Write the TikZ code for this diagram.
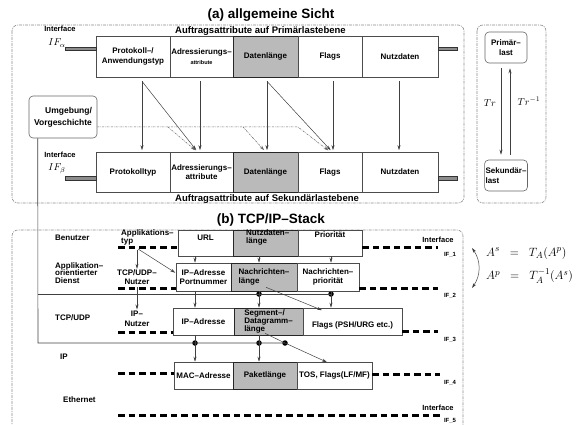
\documentclass[tikz,border=0pt]{standalone}
\usepackage{fontspec}
\setmainfont{Liberation Sans}
\usetikzlibrary{arrows.meta,calc}
\begin{document}
\begin{tikzpicture}[x=1pt,y=-1pt,
  every node/.style={inner sep=0pt},
  txt/.style={font=\fontsize{8}{9}\selectfont\bfseries, align=center},
  lab/.style={font=\fontsize{9.5}{11}\selectfont\bfseries},
  small/.style={font=\fontsize{7.5}{9}\selectfont\bfseries},
  tiny/.style={font=\fontsize{6}{7}\selectfont\bfseries},
  ttl/.style={font=\fontsize{13.5}{16}\selectfont\bfseries},
  cell/.style={draw=black!70, line width=0.6pt, fill=white, font=\fontsize{8}{9.5}\selectfont\bfseries, align=center, inner sep=0.5pt},
  gcell/.style={cell, fill=black!27, draw=black!85},
  rbox/.style={draw=black!60, line width=0.6pt, rounded corners=4pt, font=\fontsize{8}{9.5}\selectfont\bfseries, inner sep=1pt},
  frame/.style={draw=black!45, line width=0.6pt, dash pattern=on 3pt off 1pt on 1pt off 1pt, rounded corners=6pt},
  arr/.style={draw=black!75, line width=0.5pt, -{Stealth[length=5pt,width=3pt]}},
  darr/.style={arr, draw=black!60, dash pattern=on 2pt off 1pt on 0.6pt off 1pt},
  ifbar/.style={draw=black!80, fill=black!45, line width=0.5pt, minimum height=3.5pt},
  ifline/.style={line width=3pt, dash pattern=on 6.5pt off 4pt},
  bus/.style={draw=black!75, line width=0.6pt},
  dot/.style={circle, fill=black, minimum size=5.5pt},
  mth/.style={font=\fontsize{10}{12}\selectfont}
]
\useasboundingbox (0,0) rectangle (581,425);

% ===================== (a) =====================
\node[ttl] (ta) at (271,15) {(a) allgemeine Sicht};
\draw[frame] (12,25) rectangle (464,203);
\draw[frame] (477,25) rectangle (546,203);
\node[lab, anchor=west] (pl) at (175,31) {Auftragsattribute auf Primärlastebene};
\node[lab, anchor=west] (sl) at (175,199) {Auftragsattribute auf Sekundärlastebene};

\node[cell, minimum width=74, minimum height=41] (p1) at (133,56.5) {Protokoll--/\\Anwendungstyp};
\node[cell, minimum width=63, minimum height=41] (p2) at (201.5,56.5) {Adressierungs--\\{\fontsize{5.5}{7}\selectfont attribute}};
\node[gcell, minimum width=65, minimum height=41] (p3) at (265.5,56.5) {Datenlänge};
\node[cell, minimum width=64, minimum height=41] (p4) at (330,56.5) {Flags};
\node[cell, minimum width=76, minimum height=41] (p5) at (400,56.5) {Nutzdaten};

\node[cell, minimum width=74, minimum height=40] (q1) at (133,172) {Protokolltyp};
\node[cell, minimum width=63, minimum height=40] (q2) at (201.5,172) {Adressierungs--\\attribute};
\node[gcell, minimum width=65, minimum height=40] (q3) at (265.5,172) {Datenlänge};
\node[cell, minimum width=64, minimum height=40] (q4) at (330,172) {Flags};
\node[cell, minimum width=76, minimum height=40] (q5) at (400,172) {Nutzdaten};

\node[small] (ifa) at (60,29) {Interface};
\node[mth] (ifal) at (57,43) {$IF_{\alpha}$};
\node[small] (ifb) at (60,155) {Interface};
\node[mth] (ifbl) at (57,169) {$IF_{\beta}$};
\node[ifbar, minimum width=31] (ba1) at (81,49) {};
\node[ifbar, minimum width=19] (ba2) at (447.5,49) {};
\node[ifbar, minimum width=31] (bb1) at (81,178) {};
\node[ifbar, minimum width=19] (bb2) at (447.5,178) {};

\node[rbox, minimum width=68, minimum height=42, align=right, font=\fontsize{8.5}{12}\selectfont\bfseries] (um) at (63,117) {Umgebung/\\Vorgeschichte};

\draw[arr, shorten >=1.5pt] ([xshift=9pt,yshift=-4pt]p1.south) -- ([xshift=9pt]q1.north);
\draw[arr, shorten >=2pt] ([xshift=9pt,yshift=-4pt]p1.south) -- ([xshift=-4pt]q2.north);
\draw[arr, shorten >=1.5pt] ([xshift=-1.5pt,yshift=-4pt]p2.south) -- ([xshift=-1.5pt]q2.north);
\draw[arr, shorten >=1.5pt] ([xshift=1.5pt,yshift=-4pt]p3.south) -- ([xshift=1.5pt]q3.north);
\draw[arr, shorten >=2pt] ([xshift=1.5pt,yshift=-4pt]p3.south) -- ([xshift=2pt]q4.north);
\draw[arr, shorten >=1.5pt] ([xshift=3pt,yshift=-4pt]p4.south) -- ([xshift=3pt]q4.north);
\draw[arr, shorten >=1.5pt] ([xshift=-1pt,yshift=-4pt]p5.south) -- ([xshift=-1pt]q5.north);

\coordinate (j0) at (298,127);
\coordinate (b1) at (168,127);
\coordinate (b2) at (243,127);
\draw[darr, shorten >=2pt] ([yshift=-10pt]um.east) -- (j0) -- (q4.north);
\draw[darr, shorten >=2pt] (b1) -- ([xshift=-4.5pt]q2.north);
\draw[darr, shorten >=2pt] (b2) -- (q3.north);

\node[rbox, minimum width=42, minimum height=31, align=center] (prim) at (506,47.5) {Primär--\\last};
\node[rbox, minimum width=42, minimum height=31, align=left] (sek) at (506,175.5) {Sekundär--\\last};
\draw[arr] ([xshift=-5pt,yshift=-5pt]prim.south) -- ([xshift=-5pt,yshift=5pt]sek.north);
\draw[arr] ([xshift=4pt,yshift=5pt]sek.north) -- ([xshift=4pt,yshift=-5pt]prim.south);
\node[mth] (tr) at (490,103) {$Tr$};
\node[mth] (tri) at (529,101) {$Tr^{-1}$};

% ===================== (b) =====================
\node[ttl] (tb) at (271,220) {(b) TCP/IP--Stack};
\draw[frame] (12,440) |- (463,230) -- (463,440);

% bus lines from Umgebung
\coordinate (c2) at (38,294);
\coordinate (c3) at (38,343);
\node[dot] (d1) at (259,294) {};
\node[dot] (d2) at (331,294) {};
\node[dot] (d3) at (195,343) {};
\node[dot] (d4) at (259,343) {};
\node[dot] (d5) at (285,343) {};
\draw[bus] ([xshift=9pt]um.south west) -- (c3) -- (d5.center);
\draw[bus] (c2) -- (d2.center);

% row 1
\node[cell, minimum width=55, minimum height=26] (u1) at (205.5,243) {};
\node[gcell, minimum width=65, minimum height=26] (u2) at (265.5,243) {};
\node[cell, minimum width=64, minimum height=26] (u3) at (330,243) {};
\node[txt] (ut1) at (205.5,238) {URL};
\node[txt, anchor=west, align=left, font=\fontsize{8}{8}\selectfont\bfseries] (ut2) at (246,237) {Nutzdaten--\\länge};
\node[txt] (ut3) at (330,235) {Priorität};

% row 2
\node[cell, minimum width=55, minimum height=28, font=\fontsize{8}{9.5}\selectfont\bfseries] (v1) at (203.5,277) {IP--Adresse\\Portnummer};
\node[gcell, minimum width=66, minimum height=28, align=left] (v2) at (264,277) {Nachrichten--\\länge};
\node[cell, minimum width=62, minimum height=28] (v3) at (328,277) {Nachrichten--\\priorität};

% row 3
\node[cell, minimum width=61, minimum height=27] (w1) at (203.5,321.5) {IP--Adresse};
\node[gcell, minimum width=69, minimum height=27, align=left, font=\fontsize{8}{8.3}\selectfont\bfseries] (w2) at (268.5,321.5) {Segment--/\\Datagramm--\\länge};
\node[cell, minimum width=99, minimum height=27] (w3) at (352.5,321.5) {};
\node[txt] (wt3) at (352.5,325.5) {Flags (PSH/URG etc.)};

% row 4
\node[cell, minimum width=59, minimum height=27] (x1) at (203.5,375.5) {MAC--Adresse};
\node[gcell, minimum width=64, minimum height=27] (x2) at (265,375.5) {Paketlänge};
\node[cell, minimum width=75, minimum height=27] (x3) at (334.5,375.5) {TOS, Flags(LF/MF)};

% left labels
\node[txt, anchor=west] (lb1) at (55,238) {Benutzer};
\node[txt, anchor=west, align=left, font=\fontsize{8}{7.5}\selectfont\bfseries] (lb2) at (55,273) {Applikation--\\orientierter\\Dienst};
\node[txt, anchor=west] (lb3) at (55,318) {TCP/UDP};
\node[txt, anchor=west] (lb4) at (60,357) {IP};
\node[txt, anchor=west] (lb5) at (63,400) {Ethernet};

% middle labels
\node[txt, anchor=west, align=left, font=\fontsize{8}{8}\selectfont\bfseries] (m1) at (121,237) {Applikations--\\typ};
\node[txt, font=\fontsize{8}{9}\selectfont\bfseries] (m2) at (137,277.5) {TCP/UDP--\\Nutzer};
\node[txt, font=\fontsize{8}{10}\selectfont\bfseries] (m3) at (137,318.5) {IP--\\Nutzer};

% interface dashed lines
\coordinate (i1l) at (118,247); \coordinate (i1r) at (438,247);
\coordinate (i2l) at (118,288); \coordinate (i2r) at (438,288);
\coordinate (i3l) at (118,332); \coordinate (i3r) at (438,331);
\coordinate (i4l) at (118,373); \coordinate (i4r) at (440,374);
\coordinate (i5l) at (118,415); \coordinate (i5r) at (440,415);
\draw[ifline] (i1l) -- (u1.west |- i1l);
\draw[ifline] (u3.east |- i1r) -- (i1r);
\draw[ifline] (i2l) -- (v1.west |- i2l);
\draw[ifline] (v3.east |- i2r) -- (i2r);
\draw[ifline] (i3l) -- (w1.west |- i3l);
\draw[ifline] (w3.east |- i3r) -- (i3r);
\draw[ifline] (i4l) -- (x1.west |- i4l);
\draw[ifline] (x3.east |- i4r) -- (i4r);
\draw[ifline] (i5l) -- (i5r);

\node[small] (if1t) at (438,240) {Interface};
\node[small] (if5t) at (438,408) {Interface};
\node[tiny] (if1) at (450,255) {IF\_1};
\node[tiny] (if2) at (450,296) {IF\_2};
\node[tiny] (if3) at (450,340) {IF\_3};
\node[tiny] (if4) at (450,383) {IF\_4};
\node[tiny] (if5) at (450,421) {IF\_5};

% vertical arrows (b)
\draw[arr] (u1.south -| d3) -- (v1.north -| d3);
\draw[arr] (u2.south -| d1) -- (v2.north -| d1);
\draw[arr] (u3.south -| d2) -- (v3.north -| d2);
\draw[arr] (v1.south -| d3) -- (w1.north -| d3);
\draw[arr] (v2.south -| d1) -- (w2.north -| d1);
\draw[arr] (v3.south -| d2) -- (w3.north -| d2);
\draw[arr] (w1.south -| d3) -- (x1.north -| d3);
\draw[arr] (w2.south -| d4) -- (x2.north -| d4);
\draw[arr] ([xshift=2pt,yshift=4pt]v2.south) -- ([xshift=-30.5pt,yshift=-2.5pt]w3.north);
\draw[arr] ([xshift=-3.5pt,yshift=2pt]w2.south) -- (d5.center) -- ([xshift=-7.5pt,yshift=-0.5pt]x3.north);

% middle arrows
\draw[arr, shorten <=5pt, shorten >=1pt] (m1.south -| m2.north) -- (m2.north);
\draw[arr, shorten <=2pt, shorten >=1pt] (m2.south) -- (m3.north);
\draw[arr, shorten >=0.5pt] ($(m1.south west)+(17,4)$) -- ([yshift=4pt]v1.west);

% formulas
\coordinate (ca1) at (472,248);
\coordinate (ca2) at (472,288);
\draw[draw=black!75, line width=0.5pt, {Stealth[length=5pt,width=3pt]}-{Stealth[length=5pt,width=3pt]}] (ca1) to[bend left=35] (ca2);
\node[anchor=west, font=\fontsize{12.5}{14}\selectfont] (f1) at (486,253) {$A^s\;\;=\;\;T_A(A^p)$};
\node[anchor=west, font=\fontsize{12.5}{14}\selectfont] (f2) at (486,276) {$A^p\;\;=\;\;T_A^{-1}(A^s)$};
\end{tikzpicture}
\end{document}
